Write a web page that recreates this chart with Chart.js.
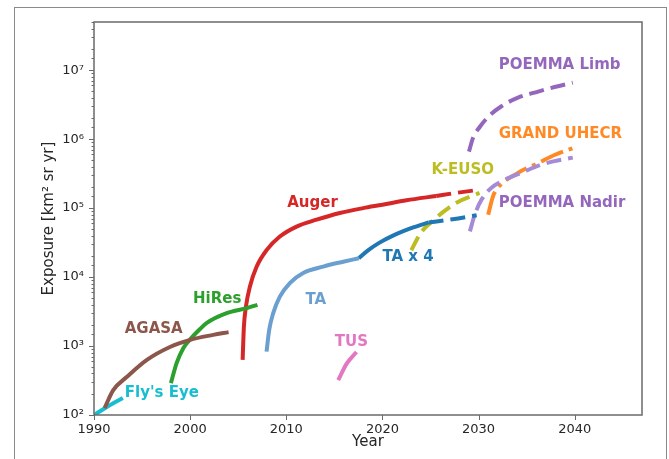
<!DOCTYPE html>
<html>
<head>
<meta charset="utf-8">
<script src="https://cdn.jsdelivr.net/npm/chart.js@4"></script>
<style>
  html, body { margin: 0; padding: 0; background: #fff; }
  #wrap { width: 669px; height: 459px; position: relative; }
</style>
</head>
<body>
<div id="wrap"><canvas id="c" width="669" height="459"></canvas></div>
<script>
// ---- data ----
const flysEyeYears = [1990.0, 1991.0, 1992.0, 1993.0];
const flysEyeExposure = [100, 122, 148, 176];

const agasaYears = [1991.1, 1992.0, 1993.4, 1995.5, 1997.9, 2000.0, 2002.4, 2004.0];
const agasaExposure = [126, 230, 355, 630, 970, 1230, 1450, 1590];

const hiresYears = [1998.0, 1998.6, 1999.3, 2000.0, 2001.0, 2001.7, 2003.8, 2005.9, 2007.0];
const hiresExposure = [290, 570, 940, 1250, 1750, 2150, 3000, 3550, 3960];

const augerYears = [2005.46, 2005.59, 2005.8, 2006.22, 2006.91, 2007.95, 2009.33, 2011.07, 2013.15, 2015.57, 2018.0, 2020.0, 2022.5, 2025.6];
const augerExposure = [630, 1900, 3700, 7300, 14100, 24600, 38700, 54000, 68000, 85000, 100000, 112000, 130000, 150000];
const augerFutureYears = [2025.6, 2027.5, 2029.5];
const augerFutureExposure = [150000, 165000, 180000];

const taYears = [2007.95, 2008.22, 2008.64, 2009.33, 2010.37, 2011.76, 2013.84, 2015.92, 2017.55];
const taExposure = [830, 1700, 3000, 5200, 8200, 11500, 14200, 16700, 18800];

const tax4Years = [2017.55, 2018.5, 2019.7, 2021.1, 2023.2, 2024.8];
const tax4Exposure = [18800, 24400, 31600, 40000, 52500, 62000];
const tax4FutureYears = [2024.8, 2027.3, 2029.8];
const tax4FutureExposure = [62000, 69000, 79000];

const tusYears = [2015.4, 2016.3, 2017.3];
const tusExposure = [320, 560, 820];

const keusoYears = [2023.0, 2024.0, 2025.1, 2026.5, 2027.7, 2030.1];
const keusoExposure = [24500, 44000, 63000, 92000, 120000, 166000];

const poemmaNadirYears = [2029.1, 2029.6, 2030.3, 2031.3, 2032.7, 2034.45, 2036.5, 2037.9, 2039.8];
const poemmaNadirExposure = [46000, 80000, 132000, 195000, 257000, 325000, 425000, 480000, 540000];

const grandYears = [2031.0, 2031.5, 2031.85, 2034.1, 2036.2, 2037.9, 2039.8];
const grandExposure = [80000, 148000, 185000, 325000, 450000, 590000, 740000];

const poemmaLimbYears = [2029.0, 2029.43, 2030.12, 2030.99, 2032.38, 2034.1, 2036.2, 2037.9, 2039.8];
const poemmaLimbExposure = [660000, 1050000, 1500000, 2100000, 3000000, 4000000, 4900000, 5700000, 6600000];

// annotation texts and their anchors (data coordinates)
const labelTexts = ['POEMMA Limb', 'GRAND UHECR', 'K-EUSO', 'POEMMA Nadir', 'Auger', 'TA x 4', 'TA', 'HiRes', 'AGASA', 'TUS', "Fly's Eye"];
const labelYears = [2032.1, 2032.1, 2025.1, 2032.1, 2010.1, 2020.0, 2012.0, 2000.3, 1993.2, 2015.05, 1993.2];
const labelExposure = [1.2e7, 1.2e6, 3.6e5, 1.2e5, 1.2e5, 19500, 4700, 4800, 1780, 1150, 210];

// tick labels
const xTickValues = [1990, 2000, 2010, 2020, 2030, 2040];
const xTickLabels = ['1990', '2000', '2010', '2020', '2030', '2040'];
const yTickValues = [1e2, 1e3, 1e4, 1e5, 1e6, 1e7];
const yTickLabels = ['10²', '10³', '10⁴', '10⁵', '10⁶', '10⁷'];

// ---- styles ----
const C = {
  fly: '#17becf', agasa: '#8c564b', hires: '#2ca02c', auger: '#d62728',
  ta: '#6b9fd0', tax4: '#1f77b4', tus: '#e377c2', keuso: '#bcbd22',
  nadir: '#a58ad6', limb: '#9467bd', grand: '#ff8a25'
};
const labelColors = [C.limb, C.grand, C.keuso, C.limb, C.auger, C.tax4, C.ta, C.hires, C.agasa, C.tus, C.fly];
const DASH = [15, 7];
const DASHDOT = [24, 6, 4, 6];
const LW = 4;

function pts(xs, ys) { return xs.map((x, i) => ({ x: x, y: ys[i] })); }
function ds(xs, ys, color, dash) {
  return {
    data: pts(xs, ys), borderColor: color, borderWidth: LW, borderDash: dash || [],
    borderCapStyle: 'butt', pointRadius: 0, fill: false,
    cubicInterpolationMode: 'monotone'
  };
}

const datasets = [
  ds(agasaYears, agasaExposure, C.agasa),
  ds(flysEyeYears, flysEyeExposure, C.fly),
  ds(hiresYears, hiresExposure, C.hires),
  ds(augerYears, augerExposure, C.auger),
  ds(augerFutureYears, augerFutureExposure, C.auger, DASH),
  ds(taYears, taExposure, C.ta),
  ds(tax4Years, tax4Exposure, C.tax4),
  ds(tax4FutureYears, tax4FutureExposure, C.tax4, DASH),
  ds(tusYears, tusExposure, C.tus),
  ds(keusoYears, keusoExposure, C.keuso, DASH),
  ds(poemmaNadirYears, poemmaNadirExposure, C.nadir, DASH),
  ds(grandYears, grandExposure, C.grand, DASHDOT),
  ds(poemmaLimbYears, poemmaLimbExposure, C.limb, DASH)
];

const FONT = "'DejaVu Sans', sans-serif";
const AXIS_COLOR = '#6a6a6a';

const framePlugin = {
  id: 'frame',
  beforeDraw(chart) {
    const ctx = chart.ctx;
    ctx.save();
    ctx.fillStyle = '#fff';
    ctx.fillRect(0, 0, chart.width, chart.height);
    ctx.strokeStyle = '#8a8a8a';
    ctx.lineWidth = 1;
    ctx.strokeRect(14.5, 7.5, 652, 470);
    ctx.restore();
  },
  afterDatasetsDraw(chart) {
    const ctx = chart.ctx;
    const a = chart.chartArea;
    const xs = chart.scales.x, ys = chart.scales.y;
    ctx.save();
    // labels
    ctx.font = 'bold 15px ' + FONT;
    ctx.textAlign = 'left';
    ctx.textBaseline = 'middle';
    labelTexts.forEach((t, i) => {
      ctx.fillStyle = labelColors[i];
      ctx.fillText(t, xs.getPixelForValue(labelYears[i]), ys.getPixelForValue(labelExposure[i]));
    });
    // box
    ctx.strokeStyle = AXIS_COLOR;
    ctx.lineWidth = 1.5;
    ctx.strokeRect(a.left, a.top, a.right - a.left, a.bottom - a.top);
    // ticks
    ctx.lineWidth = 1;
    ctx.beginPath();
    xTickValues.forEach(v => {
      const px = Math.round(xs.getPixelForValue(v)) + 0.5;
      ctx.moveTo(px, a.bottom); ctx.lineTo(px, a.bottom + 5);
    });
    ys.ticks.forEach(t => {
      const e = Math.log10(t.value);
      const major = Math.abs(e - Math.round(e)) < 1e-6;
      const py = Math.round(ys.getPixelForValue(t.value)) + 0.5;
      if (py < a.top || py > a.bottom + 1) return;
      ctx.moveTo(a.left, py); ctx.lineTo(a.left - (major ? 5 : 2.5), py);
    });
    ctx.stroke();
    ctx.restore();
  }
};

new Chart(document.getElementById('c'), {
  type: 'line',
  data: { datasets: datasets },
  plugins: [framePlugin],
  options: {
    responsive: false,
    animation: false,
    layout: { padding: { top: 22, right: 27, left: 0, bottom: 0 } },
    plugins: { legend: { display: false }, tooltip: { enabled: false } },
    scales: {
      x: {
        type: 'linear', min: 1990, max: 2047,
        afterFit(s) { s.height = 44; },
        border: { display: false },
        grid: { display: true, drawOnChartArea: false, drawTicks: true, tickLength: 5, color: 'rgba(0,0,0,0)' },
        ticks: {
          stepSize: 10, includeBounds: false, autoSkip: false, maxRotation: 0,
          padding: 2, color: '#262626', font: { family: FONT, size: 13 },
          callback(v) { const i = xTickValues.indexOf(v); return i >= 0 ? xTickLabels[i] : ''; }
        },
        title: { display: true, text: 'Year', color: '#262626', font: { family: FONT, size: 15 }, padding: { top: 0, bottom: 8 } }
      },
      y: {
        type: 'logarithmic', min: 100, max: 5e7,
        afterFit(s) { s.width = 94; },
        border: { display: false },
        grid: { display: true, drawOnChartArea: false, drawTicks: true, tickLength: 5, color: 'rgba(0,0,0,0)' },
        ticks: {
          autoSkip: false, padding: 5, color: '#262626', font: { family: FONT, size: 13 },
          callback(v) {
            const i = yTickValues.findIndex(t => Math.abs(t - v) / t < 1e-6);
            return i >= 0 ? yTickLabels[i] : '';
          }
        },
        title: { display: true, text: 'Exposure [km² sr yr]', color: '#262626', font: { family: FONT, size: 15 }, padding: { top: 40, bottom: 0 } }
      }
    }
  }
});
</script>
</body>
</html>
